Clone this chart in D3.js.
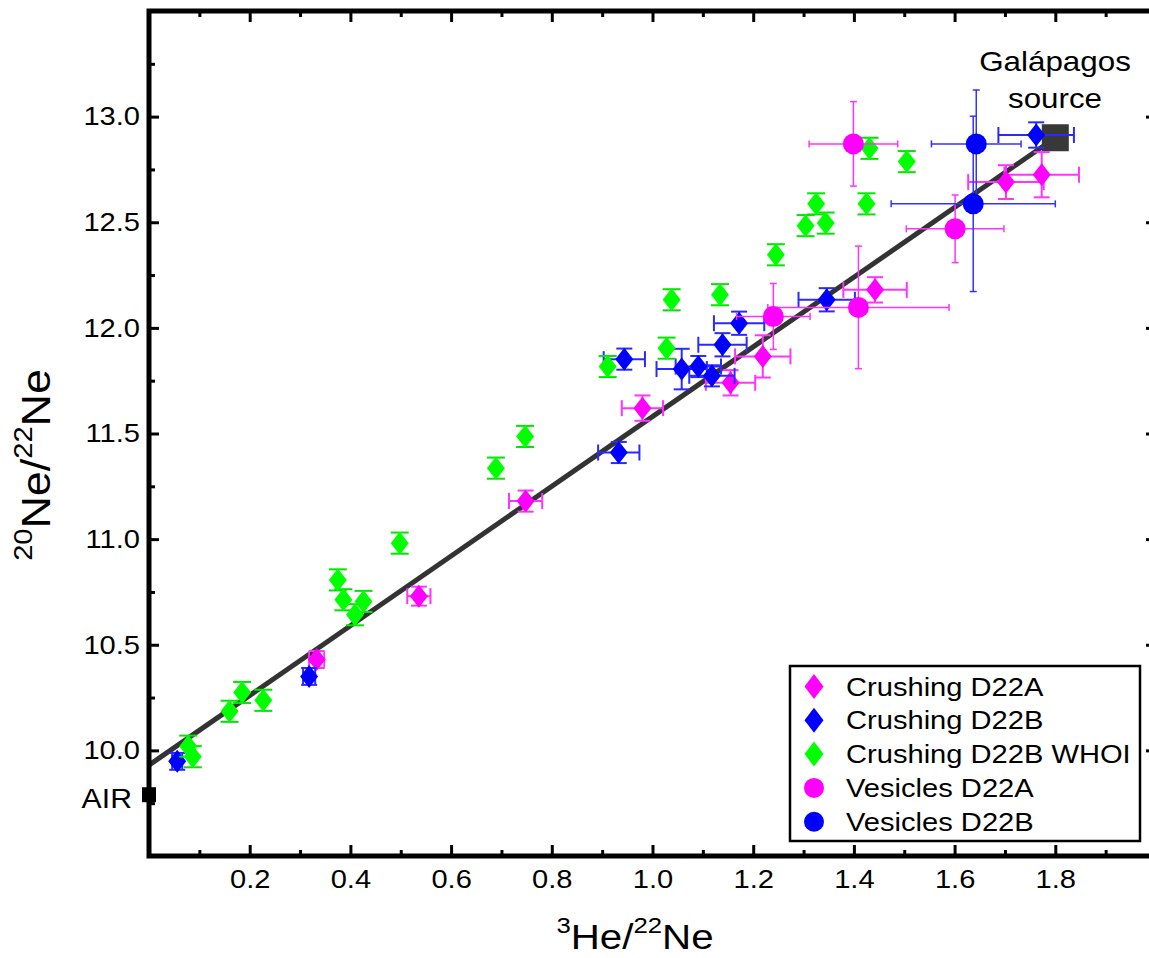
<!DOCTYPE html>
<html>
<head>
<meta charset="utf-8">
<script src="https://cdn.jsdelivr.net/npm/d3@7"></script>
<style>
  body { margin: 0; background: #fff; }
  svg { display: block; font-family: "Liberation Sans", Arial, Helvetica, sans-serif; }
</style>
</head>
<body>
<svg width="1149" height="958"></svg>
<script>
var WIDTH = 1149, HEIGHT = 958;
var PLOT = {left: 149, right: 1156, top: 11, bottom: 856};
var SX = 1.12; // original lettering is a bit wider than Liberation Sans

// rows: [3He/22Ne, 20Ne/22Ne, x error, y error]
var crushingD22A = [
  [0.333, 10.43, 0.015, 0.04],
  [0.536, 10.73, 0.023, 0.045],
  [0.748, 11.18, 0.033, 0.05],
  [0.980, 11.62, 0.041, 0.06],
  [1.155, 11.74, 0.049, 0.06],
  [1.219, 11.865, 0.055, 0.10],
  [1.442, 12.18, 0.063, 0.06],
  [1.702, 12.69, 0.075, 0.08],
  [1.773, 12.725, 0.074, 0.107]
];
var crushingD22B = [
  [0.056, 9.948, 0.010, 0.04],
  [0.318, 10.35, 0.012, 0.04],
  [0.933, 11.41, 0.041, 0.05],
  [0.944, 11.852, 0.041, 0.05],
  [1.058, 11.805, 0.050, 0.096],
  [1.091, 11.817, 0.045, 0.05],
  [1.118, 11.773, 0.045, 0.05],
  [1.139, 11.92, 0.048, 0.055],
  [1.172, 12.022, 0.050, 0.055],
  [1.346, 12.133, 0.056, 0.055],
  [1.762, 12.913, 0.075, 0.06]
];
var crushingWHOI = [
  [0.078, 10.02, 0, 0.05], [0.087, 9.97, 0, 0.05], [0.160, 10.185, 0, 0.05],
  [0.185, 10.274, 0, 0.05], [0.227, 10.237, 0, 0.05], [0.375, 10.807, 0, 0.05],
  [0.386, 10.713, 0, 0.05], [0.409, 10.642, 0, 0.05], [0.426, 10.705, 0, 0.05],
  [0.498, 10.981, 0, 0.05], [0.689, 11.336, 0, 0.05], [0.747, 11.486, 0, 0.05],
  [0.911, 11.817, 0, 0.05], [1.028, 11.904, 0, 0.05], [1.038, 12.133, 0, 0.05],
  [1.134, 12.157, 0, 0.05], [1.245, 12.346, 0, 0.05], [1.304, 12.484, 0, 0.05],
  [1.325, 12.587, 0, 0.05], [1.344, 12.496, 0, 0.05], [1.425, 12.587, 0, 0.05],
  [1.431, 12.85, 0, 0.05], [1.505, 12.787, 0, 0.05]
];
var vesiclesD22A = [
  [1.240, 12.054, 0.073, 0.156],
  [1.399, 12.871, 0.088, 0.20],
  [1.409, 12.097, 0.180, 0.29],
  [1.601, 12.469, 0.097, 0.16]
];
var vesiclesD22B = [
  [1.643, 12.871, 0.089, 0.255],
  [1.637, 12.587, 0.163, 0.415]
];

var mixLine = [[0, 9.93], [1.80, 12.90]];
var galapagos = [1.80, 12.90];
var air = [0, 9.79];

var xMajorTicks = [0.2, 0.4, 0.6, 0.8, 1.0, 1.2, 1.4, 1.6, 1.8];
var xMinorTicks = [0.1, 0.3, 0.5, 0.7, 0.9, 1.1, 1.3, 1.5, 1.7, 1.9];
var yMajorTicks = [10.0, 10.5, 11.0, 11.5, 12.0, 12.5, 13.0];
var yMinorTicks = [9.75, 10.25, 10.75, 11.25, 11.75, 12.25, 12.75, 13.25];

var legendNames = ["Crushing D22A", "Crushing D22B", "Crushing D22B WHOI", "Vesicles D22A", "Vesicles D22B"];
var legendColors = ["#ff00ff", "#0000ff", "#00ff00", "#ff00ff", "#0000ff"];
var legendShapes = ["diamond", "diamond", "diamond", "circle", "circle"];

var svg = d3.select("svg");
var x = d3.scaleLinear().domain([0, 2]).range([PLOT.left, PLOT.right]);
var y = d3.scaleLinear().domain([9.5, 13.5]).range([PLOT.bottom, PLOT.top]);

function diamondPath (hw, hh) {
  return "M0," + (-hh) + "L" + hw + ",0L0," + hh + "L" + (-hw) + ",0Z";
}

function drawAxes () {
  var g = svg.append("g");
  function styleAxis (sel, labelled) {
    sel.attr("font-family", null).attr("font-size", null);
    sel.select(".domain").remove();
    sel.selectAll(".tick line").attr("stroke", "#000").attr("stroke-width", 3);
    if (labelled) {
      sel.selectAll(".tick text")
        .attr("fill", "#000")
        .style("font-size", "26px")
        .attr("transform", "scale(" + SX + ",1)");
    }
  }
  var fmt = d3.format(".1f");

  g.append("g").attr("transform", "translate(0," + PLOT.bottom + ")")
    .call(d3.axisBottom(x).tickValues(xMajorTicks).tickSize(-11).tickPadding(14).tickFormat(fmt))
    .call(styleAxis, true);
  g.append("g").attr("transform", "translate(0," + PLOT.bottom + ")")
    .call(d3.axisBottom(x).tickValues(xMinorTicks).tickSize(-6).tickFormat(""))
    .call(styleAxis, false);
  g.append("g").attr("transform", "translate(0," + PLOT.top + ")")
    .call(d3.axisTop(x).tickValues(xMajorTicks).tickSize(-11).tickFormat(""))
    .call(styleAxis, false);
  g.append("g").attr("transform", "translate(0," + PLOT.top + ")")
    .call(d3.axisTop(x).tickValues(xMinorTicks).tickSize(-6).tickFormat(""))
    .call(styleAxis, false);

  g.append("g").attr("transform", "translate(" + PLOT.left + ",0)")
    .call(d3.axisLeft(y).tickValues(yMajorTicks).tickSize(-10).tickPadding(8).tickFormat(fmt))
    .call(styleAxis, true);
  g.append("g").attr("transform", "translate(" + PLOT.left + ",0)")
    .call(d3.axisLeft(y).tickValues(yMinorTicks).tickSize(-6).tickFormat(""))
    .call(styleAxis, false);
  g.append("g").attr("transform", "translate(" + PLOT.right + ",0)")
    .call(d3.axisRight(y).tickValues(yMajorTicks).tickSize(-10).tickFormat(""))
    .call(styleAxis, false);
  g.append("g").attr("transform", "translate(" + PLOT.right + ",0)")
    .call(d3.axisRight(y).tickValues(yMinorTicks).tickSize(-6).tickFormat(""))
    .call(styleAxis, false);

  // plot frame
  svg.append("rect")
    .attr("x", PLOT.left)
    .attr("y", PLOT.top)
    .attr("width", PLOT.right - PLOT.left)
    .attr("height", PLOT.bottom - PLOT.top)
    .attr("fill", "none")
    .attr("stroke", "#000")
    .attr("stroke-width", 5);
}

function drawTitles () {
  // x title: 3He/22Ne
  var xt = svg.append("text")
    .attr("transform", "translate(635,949) scale(" + SX + ",1)")
    .attr("text-anchor", "middle")
    .attr("fill", "#000");
  xt.append("tspan").style("font-size", "23px").attr("dy", -16).text("3");
  xt.append("tspan").style("font-size", "36px").attr("dy", 16).text("He/");
  xt.append("tspan").style("font-size", "23px").attr("dy", -16).text("22");
  xt.append("tspan").style("font-size", "36px").attr("dy", 16).text("Ne");

  // y title: 20Ne/22Ne
  var yt = svg.append("text")
    .attr("transform", "translate(50,465) rotate(-90) scale(" + SX + ",1)")
    .attr("text-anchor", "middle")
    .attr("fill", "#000");
  yt.append("tspan").style("font-size", "26px").attr("dy", -18).text("20");
  yt.append("tspan").style("font-size", "40px").attr("dy", 18).text("Ne/");
  yt.append("tspan").style("font-size", "26px").attr("dy", -18).text("22");
  yt.append("tspan").style("font-size", "40px").attr("dy", 18).text("Ne");
}

function drawEndMembers () {
  svg.append("path")
    .datum(mixLine)
    .attr("d", d3.line().x(function (d) { return x(d[0]); }).y(function (d) { return y(d[1]); }))
    .attr("fill", "none")
    .attr("stroke", "#333")
    .attr("stroke-width", 5);

  svg.append("rect")
    .attr("x", x(galapagos[0]) - 13.5)
    .attr("y", y(galapagos[1]) - 13.5)
    .attr("width", 27)
    .attr("height", 27)
    .attr("fill", "#383838");

  svg.append("rect")
    .attr("x", x(air[0]) - 7)
    .attr("y", y(air[1]) - 7.5)
    .attr("width", 14)
    .attr("height", 15)
    .attr("fill", "#000");

  svg.append("text")
    .attr("transform", "translate(132,808) scale(" + SX + ",1)")
    .attr("text-anchor", "end")
    .style("font-size", "27px")
    .text("AIR");

  svg.append("text")
    .attr("transform", "translate(1055,71) scale(" + SX + ",1)")
    .attr("text-anchor", "middle")
    .style("font-size", "28px")
    .text("Galápagos");
  svg.append("text")
    .attr("transform", "translate(1055,108) scale(" + SX + ",1)")
    .attr("text-anchor", "middle")
    .style("font-size", "28px")
    .text("source");
}

function drawSeries (data, color, errColor, shape, errWidth, cap) {
  var g = svg.append("g");
  var bars = g.append("g").attr("stroke", errColor).attr("stroke-width", errWidth);
  data.forEach(function (d) {
    var cx = x(d[0]), cy = y(d[1]);
    if (d[2] > 0) {
      var x0 = x(d[0] - d[2]), x1 = x(d[0] + d[2]);
      bars.append("line").attr("x1", x0).attr("x2", x1).attr("y1", cy).attr("y2", cy);
      bars.append("line").attr("x1", x0).attr("x2", x0).attr("y1", cy - cap).attr("y2", cy + cap);
      bars.append("line").attr("x1", x1).attr("x2", x1).attr("y1", cy - cap).attr("y2", cy + cap);
    }
    if (d[3] > 0) {
      var y0 = y(d[1] - d[3]), y1 = y(d[1] + d[3]);
      bars.append("line").attr("x1", cx).attr("x2", cx).attr("y1", y0).attr("y2", y1);
      bars.append("line").attr("x1", cx - cap).attr("x2", cx + cap).attr("y1", y0).attr("y2", y0);
      bars.append("line").attr("x1", cx - cap).attr("x2", cx + cap).attr("y1", y1).attr("y2", y1);
    }
  });
  if (shape === "diamond") {
    g.selectAll("path.pt").data(data).enter().append("path")
      .attr("class", "pt")
      .attr("d", diamondPath(9, 11.5))
      .attr("transform", function (d) { return "translate(" + x(d[0]) + "," + y(d[1]) + ")"; })
      .attr("fill", color);
  } else {
    g.selectAll("circle").data(data).enter().append("circle")
      .attr("cx", function (d) { return x(d[0]); })
      .attr("cy", function (d) { return y(d[1]); })
      .attr("r", 10.5)
      .attr("fill", color);
  }
}

function drawLegend () {
  var g = svg.append("g");
  g.append("rect")
    .attr("x", 790).attr("y", 666)
    .attr("width", 350).attr("height", 175)
    .attr("fill", "#fff")
    .attr("stroke", "#000")
    .attr("stroke-width", 2.5);
  legendNames.forEach(function (name, i) {
    var cy = 686.5 + i * 33.8;
    if (legendShapes[i] === "diamond") {
      g.append("path")
        .attr("d", diamondPath(9.5, 12.5))
        .attr("transform", "translate(814," + cy + ")")
        .attr("fill", legendColors[i]);
    } else {
      g.append("circle").attr("cx", 814).attr("cy", cy).attr("r", 10).attr("fill", legendColors[i]);
    }
    g.append("text")
      .attr("transform", "translate(846," + (cy + 9) + ") scale(" + SX + ",1)")
      .style("font-size", "26px")
      .attr("fill", "#000")
      .text(name);
  });
}

drawEndMembers();
drawSeries(crushingD22A, "#ff00ff", "#ff33ff", "diamond", 2, 8);
drawSeries(crushingD22B, "#0000ff", "#2a2aff", "diamond", 2, 8);
drawSeries(crushingWHOI, "#00ff00", "#00e600", "diamond", 2, 9);
drawSeries(vesiclesD22A, "#ff00ff", "#ff33ff", "circle", 1.5, 3.5);
drawSeries(vesiclesD22B, "#0000ff", "#3333ff", "circle", 1.5, 3.5);
drawAxes();
drawTitles();
drawLegend();
</script>
</body>
</html>
